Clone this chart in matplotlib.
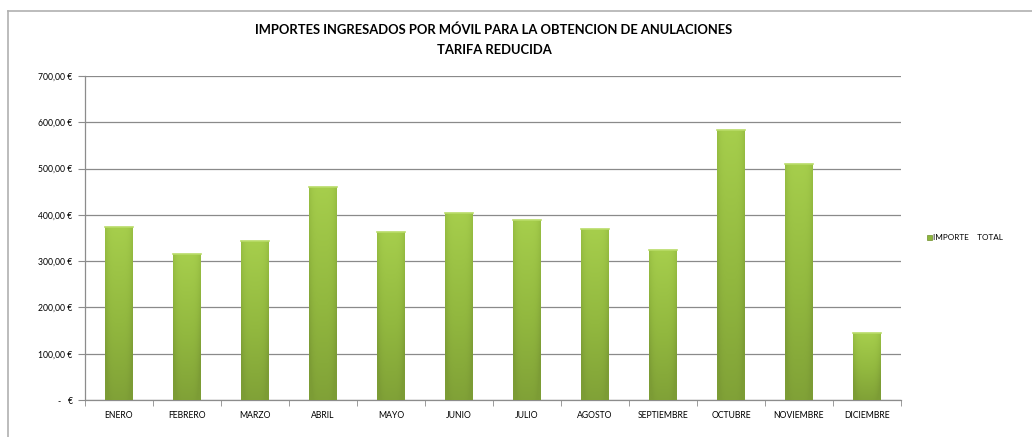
import numpy as np
import matplotlib
matplotlib.use("Agg")
import matplotlib.pyplot as plt
from matplotlib.colors import LinearSegmentedColormap
from matplotlib.ticker import FuncFormatter, FixedLocator

plt.rcParams['font.family'] = ['Lato', 'DejaVu Sans']

meses = ["ENERO", "FEBRERO", "MARZO", "ABRIL", "MAYO", "JUNIO", "JULIO",
         "AGOSTO", "SEPTIEMBRE", "OCTUBRE", "NOVIEMBRE", "DICIEMBRE"]
importes = [373, 315, 343, 461, 364, 405, 389, 369, 323, 584, 510, 144]
titulo = "IMPORTES INGRESADOS POR MÓVIL PARA LA OBTENCION DE ANULACIONES\nTARIFA REDUCIDA"
serie = "IMPORTE    TOTAL"

W, H = 1032, 437
fig = plt.figure(figsize=(W / 100, H / 100), dpi=100)
ax = fig.add_axes([85 / W, 1 - 400 / H, (901 - 85) / W, (400 - 76) / H])

x = np.arange(len(meses))
ancho = 0.40
barras = ax.bar(x, importes, width=ancho, color="none", edgecolor="none", zorder=3)

# relleno degradado: claro arriba, oscuro abajo, bordes algo más oscuros
cmap = LinearSegmentedColormap.from_list("verde", ["#7c9c35", "#92b83f", "#a6ce4c"])
ny, nx = 200, 40
vert = np.linspace(0, 1, ny)[:, None]
horiz = np.linspace(-1, 1, nx)[None, :]
grad = vert * 0.9 + 0.1 - 0.35 * np.abs(horiz) ** 4
grad = np.clip(grad, 0, 1)
for rect in barras:
    x0, y0 = rect.get_x(), rect.get_y()
    w, h = rect.get_width(), rect.get_height()
    im = ax.imshow(grad, cmap=cmap, vmin=0, vmax=1, origin="lower",
                   extent=[x0, x0 + w, y0, y0 + h], aspect="auto", zorder=3,
                   interpolation="bilinear")
    im.set_clip_path(rect)
    ax.plot([x0, x0 + w], [y0 + h, y0 + h], color="#b9dc68", lw=1.2, zorder=4)

ax.set_xlim(-0.5, len(meses) - 0.5)
ax.set_ylim(0, 700)
ax.set_aspect("auto")

def euros(v, pos):
    if v == 0:
        return "-   €"
    return f"{v:,.2f} €".replace(",", "X").replace(".", ",").replace("X", ".")

ax.yaxis.set_major_locator(FixedLocator(np.arange(0, 701, 100)))
ax.yaxis.set_major_formatter(FuncFormatter(euros))
ax.set_xticks(x)
ax.set_xticklabels(meses)
ax.set_xticks(np.arange(-0.5, len(meses), 1), minor=True)
ax.tick_params(axis="x", which="major", length=0, pad=8, labelsize=6.2, colors="#000000")
ax.tick_params(axis="x", which="minor", length=4, color="#8c8c8c", direction="out")
ax.tick_params(axis="y", length=5, color="#8c8c8c", labelsize=6.2, pad=4)

ax.grid(axis="y", color="#8a8a8a", lw=0.9, zorder=0)
for s in ["top", "right"]:
    ax.spines[s].set_visible(False)
for s in ["left", "bottom"]:
    ax.spines[s].set_color("#8c8c8c")
    ax.spines[s].set_linewidth(0.9)

fig.text(494 / W, 1 - 40 / H, titulo, ha="center", va="center",
         fontsize=9.4, fontweight="bold", linespacing=1.75)

# leyenda
fig.patches.append(plt.Rectangle((927 / W, 1 - 240 / H), 5 / W, 5 / H,
                                 transform=fig.transFigure, facecolor="#8db73c",
                                 edgecolor="#6f8f2c", lw=0.5))
fig.text(933 / W, 1 - 237.5 / H, serie, ha="left", va="center", fontsize=5.9)

# marco del gráfico
fig.add_artist(plt.Line2D([8 / W, 8 / W], [0, 1 - 10.5 / H], transform=fig.transFigure,
                          color="#b0b0b0", lw=1.2))
fig.add_artist(plt.Line2D([8 / W, 1], [1 - 10.5 / H, 1 - 10.5 / H], transform=fig.transFigure,
                          color="#b0b0b0", lw=1.2))

fig.savefig("out.png", dpi=100, facecolor="white")
